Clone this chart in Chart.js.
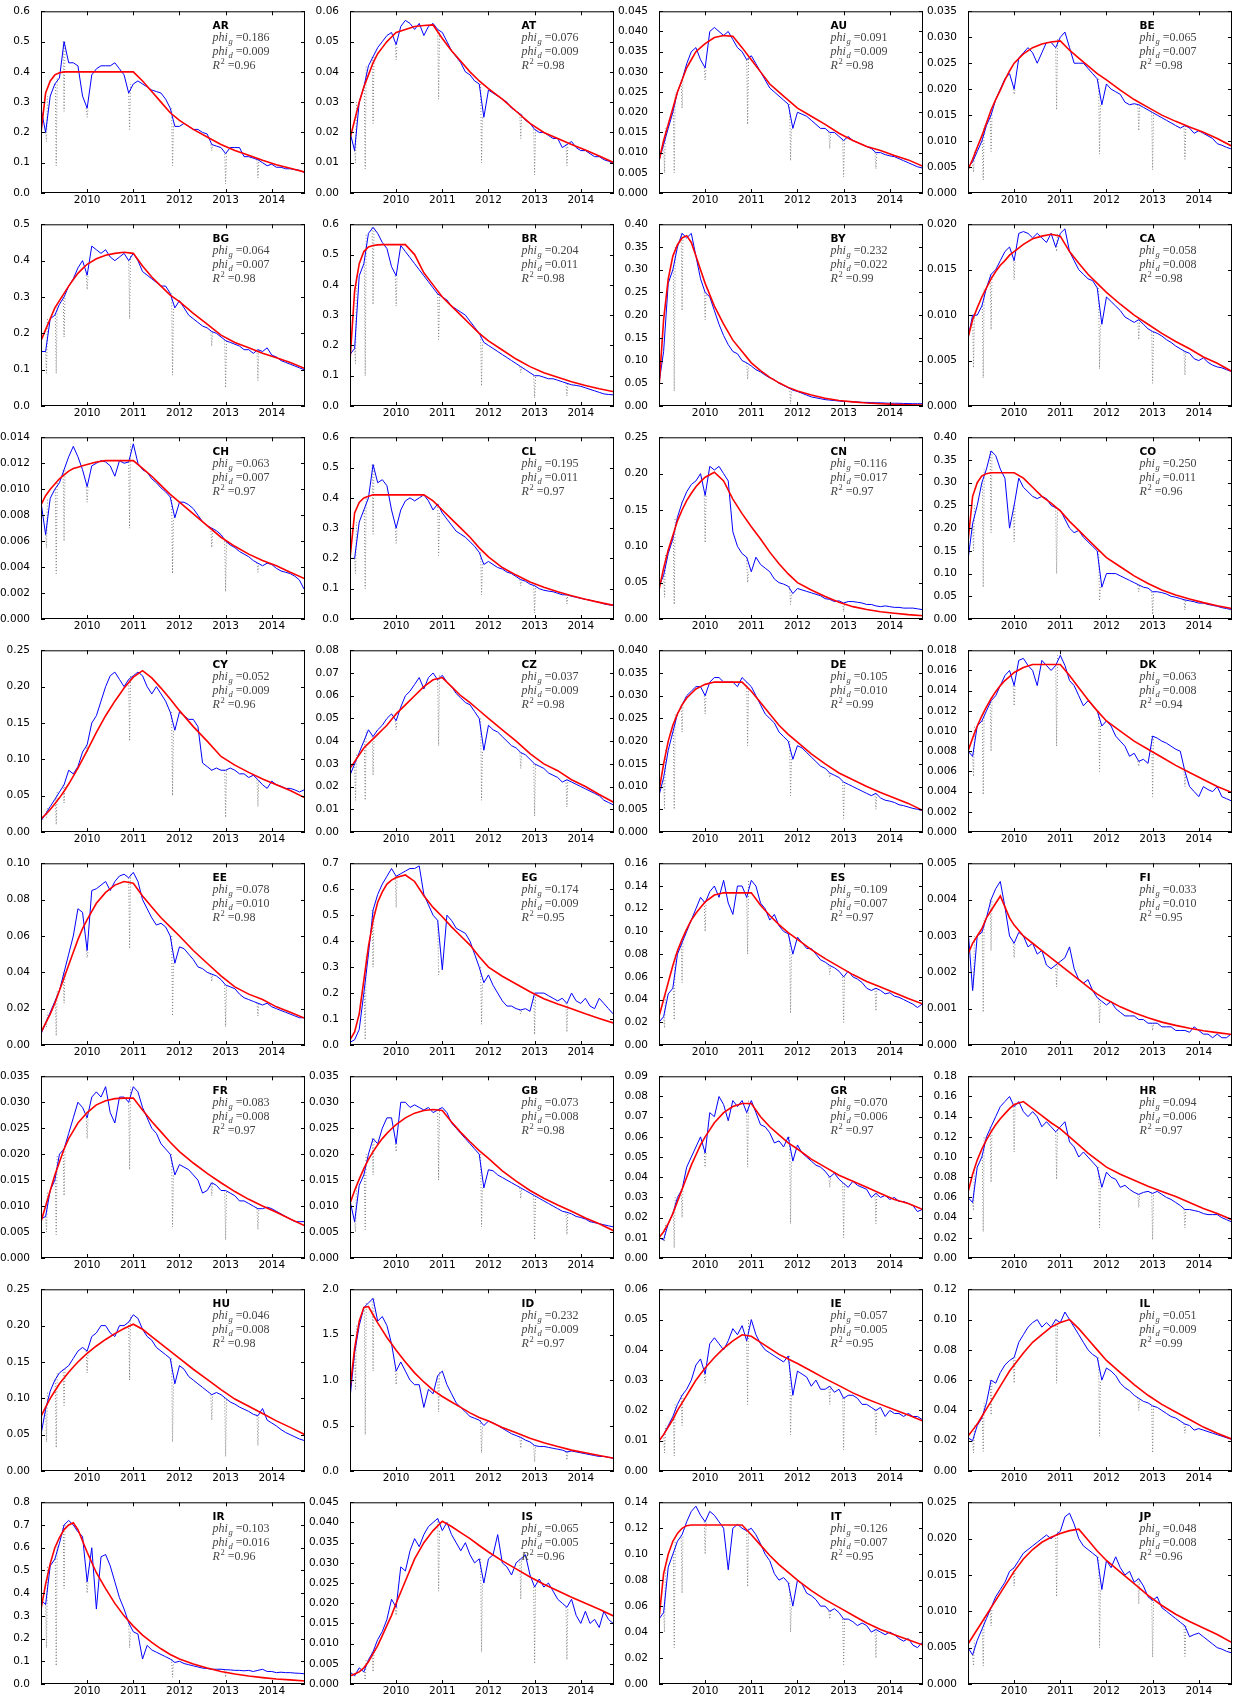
<!DOCTYPE html>
<html>
<head>
<meta charset="utf-8">
<script src="https://cdn.jsdelivr.net/npm/chart.js@4.4.1/dist/chart.umd.min.js"></script>
<style>
    body { margin: 0; background: #fff; width: 1233px; height: 1699px; position: relative; overflow: hidden; }
    canvas { position: absolute; }
</style>
</head>
<body>
<script>
// ---- data ----
const countries = ["AR", "AT", "AU", "BE", "BG", "BR", "BY", "CA", "CH", "CL", "CN", "CO", "CY", "CZ", "DE", "DK",
    "EE", "EG", "ES", "FI", "FR", "GB", "GR", "HR", "HU", "ID", "IE", "IL", "IR", "IS", "IT", "JP"];
const phiG = [0.186, 0.076, 0.091, 0.065, 0.064, 0.204, 0.232, 0.058, 0.063, 0.195, 0.116, 0.250, 0.052, 0.037, 0.105, 0.063,
    0.078, 0.174, 0.109, 0.033, 0.083, 0.073, 0.070, 0.094, 0.046, 0.232, 0.057, 0.051, 0.103, 0.065, 0.126, 0.048];
const phiD = [0.009, 0.009, 0.009, 0.007, 0.007, 0.011, 0.022, 0.008, 0.007, 0.011, 0.017, 0.011, 0.009, 0.009, 0.010, 0.008,
    0.010, 0.009, 0.007, 0.010, 0.008, 0.008, 0.006, 0.006, 0.008, 0.009, 0.005, 0.009, 0.016, 0.005, 0.007, 0.008];
const rSquared = [0.96, 0.98, 0.98, 0.98, 0.98, 0.98, 0.99, 0.98, 0.97, 0.97, 0.97, 0.96, 0.96, 0.98, 0.99, 0.94,
    0.98, 0.95, 0.97, 0.95, 0.97, 0.98, 0.97, 0.97, 0.98, 0.97, 0.95, 0.99, 0.96, 0.96, 0.95, 0.96];
const yMax = [0.6, 0.06, 0.045, 0.035, 0.5, 0.6, 0.40, 0.020, 0.014, 0.6, 0.25, 0.40, 0.25, 0.08, 0.040, 0.018,
    0.10, 0.7, 0.16, 0.005, 0.035, 0.035, 0.09, 0.18, 0.25, 2.0, 0.06, 0.12, 0.8, 0.045, 0.14, 0.025];
const yStep = [0.1, 0.01, 0.005, 0.005, 0.1, 0.1, 0.05, 0.005, 0.002, 0.1, 0.05, 0.05, 0.05, 0.01, 0.005, 0.002,
    0.02, 0.1, 0.02, 0.001, 0.005, 0.005, 0.01, 0.02, 0.05, 0.5, 0.01, 0.02, 0.1, 0.005, 0.02, 0.005];
const yearTicks = [2010, 2011, 2012, 2013, 2014];

// observation dates (blue)
const weekX = [2009.0, 2009.1, 2009.2, 2009.3, 2009.4, 2009.5, 2009.6, 2009.7, 2009.8, 2009.9,
    2010.0, 2010.1, 2010.2, 2010.3, 2010.4, 2010.5, 2010.6, 2010.7, 2010.8, 2010.9,
    2011.0, 2011.1, 2011.2, 2011.3, 2011.4, 2011.5, 2011.6, 2011.7, 2011.8, 2011.9,
    2012.0, 2012.1, 2012.2, 2012.3, 2012.4, 2012.5, 2012.6, 2012.7, 2012.8, 2012.9,
    2013.0, 2013.1, 2013.2, 2013.3, 2013.4, 2013.5, 2013.6, 2013.7, 2013.8, 2013.9,
    2014.0, 2014.1, 2014.2, 2014.3, 2014.4, 2014.5, 2014.6, 2014.7];
// model dates (red)
const fitX = [2009.0, 2009.1, 2009.2, 2009.3, 2009.4, 2009.5, 2009.6, 2009.7, 2009.8, 2009.9,
    2010.0, 2010.2, 2010.4, 2010.6, 2010.8, 2011.0, 2011.2, 2011.4, 2011.6, 2011.8,
    2012.0, 2012.3, 2012.6, 2012.9, 2013.2, 2013.5, 2013.8, 2014.1, 2014.4, 2014.72];
// dates of the short drops (grey dotted)
const dipX = [2009.12, 2009.33, 2009.5, 2010.0, 2010.92, 2011.85, 2012.7, 2013.0, 2013.7];

const observed = [
    /* AR */ [0.28,0.20,0.32,0.36,0.38,0.50,0.43,0.43,0.42,0.32, 0.28,0.39,0.41,0.42,0.42,0.42,0.43,0.41,0.39,0.33, 0.36,0.37,0.36,0.35,0.34,0.335,0.33,0.31,0.28,0.22, 0.22,0.23,0.22,0.21,0.21,0.20,0.195,0.16,0.155,0.15, 0.13,0.15,0.15,0.15,0.12,0.12,0.115,0.11,0.10,0.09, 0.095,0.085,0.085,0.08,0.08,0.077,0.075,0.068],
    /* AT */ [0.020,0.014,0.030,0.035,0.042,0.045,0.048,0.050,0.052,0.053, 0.049,0.055,0.057,0.056,0.054,0.056,0.052,0.055,0.056,0.054, 0.053,0.050,0.047,0.045,0.043,0.040,0.039,0.037,0.036,0.025, 0.034,0.033,0.032,0.031,0.030,0.028,0.027,0.026,0.024,0.023, 0.021,0.020,0.020,0.019,0.018,0.018,0.015,0.016,0.017,0.015, 0.014,0.014,0.013,0.012,0.012,0.011,0.0105,0.0098],
    /* AU */ [0.008,0.012,0.016,0.020,0.025,0.028,0.032,0.035,0.036,0.033, 0.031,0.040,0.041,0.040,0.039,0.040,0.038,0.036,0.035,0.033, 0.034,0.032,0.030,0.028,0.026,0.025,0.024,0.023,0.022,0.016, 0.020,0.0195,0.019,0.018,0.017,0.016,0.016,0.015,0.015,0.014, 0.013,0.014,0.013,0.0125,0.012,0.0115,0.011,0.010,0.010,0.0095, 0.0092,0.009,0.0085,0.008,0.0075,0.007,0.0065,0.0062],
    /* BE */ [0.005,0.006,0.008,0.010,0.013,0.015,0.018,0.020,0.022,0.023, 0.020,0.026,0.027,0.028,0.027,0.025,0.027,0.029,0.029,0.028, 0.030,0.031,0.028,0.025,0.025,0.025,0.024,0.023,0.022,0.017, 0.021,0.020,0.0195,0.019,0.0175,0.017,0.0172,0.017,0.0165,0.016, 0.0155,0.015,0.0145,0.014,0.0135,0.013,0.0125,0.013,0.0125,0.0115, 0.012,0.0115,0.011,0.0105,0.0095,0.0092,0.0088,0.0085],
    /* BG */ [0.15,0.15,0.24,0.25,0.28,0.30,0.33,0.35,0.38,0.40, 0.36,0.44,0.43,0.42,0.43,0.41,0.40,0.41,0.42,0.40, 0.42,0.40,0.37,0.36,0.35,0.34,0.33,0.33,0.31,0.27, 0.29,0.27,0.25,0.24,0.23,0.22,0.215,0.205,0.20,0.19, 0.18,0.175,0.17,0.165,0.155,0.155,0.145,0.155,0.15,0.16, 0.14,0.135,0.125,0.12,0.115,0.11,0.105,0.10],
    /* BR */ [0.17,0.19,0.43,0.47,0.57,0.59,0.57,0.54,0.52,0.46, 0.43,0.53,0.51,0.49,0.47,0.45,0.43,0.41,0.39,0.37, 0.36,0.35,0.33,0.32,0.31,0.30,0.28,0.26,0.24,0.21, 0.20,0.19,0.18,0.17,0.16,0.15,0.14,0.13,0.12,0.11, 0.10,0.10,0.095,0.09,0.09,0.085,0.08,0.075,0.07,0.068, 0.065,0.06,0.055,0.05,0.045,0.04,0.038,0.037],
    /* BY */ [0.05,0.12,0.27,0.30,0.35,0.38,0.37,0.38,0.33,0.28, 0.25,0.24,0.21,0.18,0.155,0.135,0.12,0.115,0.10,0.095, 0.088,0.08,0.075,0.068,0.062,0.058,0.05,0.045,0.04,0.035, 0.032,0.028,0.024,0.02,0.018,0.016,0.014,0.013,0.012,0.011, 0.010,0.010,0.009,0.009,0.008,0.008,0.0075,0.007,0.007,0.0065, 0.006,0.006,0.006,0.0055,0.0055,0.005,0.005,0.005],
    /* CA */ [0.0075,0.010,0.010,0.011,0.013,0.0145,0.015,0.016,0.017,0.0175, 0.016,0.019,0.0192,0.019,0.0185,0.019,0.0185,0.018,0.019,0.0175, 0.019,0.0195,0.017,0.016,0.015,0.0145,0.014,0.0138,0.013,0.009, 0.012,0.0115,0.011,0.0105,0.0098,0.0095,0.0092,0.0095,0.009,0.0085, 0.0082,0.008,0.0077,0.0073,0.007,0.0066,0.0063,0.006,0.0058,0.0052, 0.005,0.0053,0.0048,0.0045,0.0043,0.0042,0.004,0.0038],
    /* CH */ [0.009,0.0065,0.0093,0.010,0.0105,0.0115,0.0125,0.0133,0.0125,0.0115, 0.0102,0.0118,0.012,0.0122,0.0121,0.0118,0.011,0.0122,0.012,0.0121, 0.0135,0.012,0.0115,0.0113,0.0108,0.0105,0.0101,0.0098,0.0094,0.0078, 0.009,0.009,0.0088,0.0085,0.008,0.0075,0.0072,0.007,0.0068,0.0065, 0.006,0.0057,0.0055,0.0052,0.005,0.0048,0.0045,0.0043,0.0041,0.0043, 0.0042,0.0039,0.0037,0.0036,0.0035,0.0033,0.003,0.0023],
    /* CL */ [0.20,0.20,0.32,0.36,0.40,0.51,0.45,0.46,0.44,0.36, 0.30,0.36,0.39,0.40,0.39,0.40,0.41,0.39,0.36,0.38, 0.35,0.33,0.31,0.29,0.28,0.27,0.255,0.24,0.22,0.18, 0.19,0.18,0.17,0.165,0.155,0.15,0.14,0.13,0.125,0.115, 0.11,0.10,0.095,0.092,0.09,0.085,0.08,0.08,0.075,0.072, 0.068,0.065,0.062,0.058,0.055,0.05,0.047,0.045],
    /* CN */ [0.045,0.06,0.09,0.11,0.14,0.16,0.175,0.185,0.19,0.20, 0.17,0.21,0.205,0.21,0.20,0.19,0.12,0.10,0.09,0.085, 0.065,0.085,0.075,0.07,0.065,0.055,0.05,0.048,0.045,0.035, 0.042,0.04,0.038,0.036,0.034,0.032,0.028,0.027,0.024,0.025, 0.022,0.024,0.024,0.023,0.022,0.02,0.02,0.018,0.017,0.018, 0.017,0.016,0.016,0.015,0.015,0.015,0.014,0.013],
    /* CO */ [0.13,0.21,0.25,0.30,0.33,0.37,0.36,0.33,0.31,0.20, 0.25,0.31,0.29,0.28,0.27,0.265,0.27,0.265,0.25,0.245, 0.24,0.22,0.20,0.19,0.195,0.18,0.17,0.16,0.15,0.07, 0.10,0.10,0.10,0.095,0.09,0.085,0.08,0.075,0.07,0.068, 0.06,0.06,0.058,0.055,0.05,0.048,0.045,0.042,0.04,0.038, 0.035,0.035,0.032,0.03,0.028,0.025,0.023,0.021],
    /* CY */ [0.015,0.025,0.035,0.045,0.055,0.065,0.085,0.08,0.09,0.11, 0.12,0.15,0.16,0.18,0.20,0.215,0.22,0.21,0.20,0.21, 0.215,0.22,0.215,0.20,0.19,0.20,0.19,0.18,0.165,0.14, 0.165,0.16,0.155,0.155,0.145,0.095,0.09,0.085,0.088,0.085, 0.085,0.088,0.085,0.08,0.08,0.075,0.078,0.072,0.065,0.06, 0.07,0.065,0.063,0.06,0.06,0.058,0.055,0.058],
    /* CZ */ [0.025,0.03,0.035,0.04,0.045,0.042,0.045,0.047,0.05,0.052, 0.049,0.055,0.06,0.062,0.065,0.068,0.063,0.068,0.07,0.067, 0.069,0.066,0.064,0.061,0.059,0.057,0.056,0.053,0.05,0.036, 0.047,0.045,0.044,0.042,0.04,0.038,0.037,0.035,0.034,0.032, 0.03,0.029,0.028,0.026,0.025,0.024,0.022,0.023,0.022,0.021, 0.02,0.019,0.018,0.017,0.016,0.014,0.013,0.012],
    /* DE */ [0.008,0.012,0.018,0.022,0.026,0.028,0.030,0.031,0.032,0.032, 0.030,0.033,0.034,0.034,0.033,0.033,0.033,0.032,0.034,0.033, 0.032,0.030,0.028,0.026,0.025,0.024,0.022,0.021,0.020,0.016, 0.019,0.0185,0.0175,0.0165,0.0155,0.0145,0.014,0.013,0.0125,0.012, 0.011,0.0105,0.010,0.0095,0.009,0.0085,0.008,0.0085,0.0075,0.007, 0.0068,0.0065,0.006,0.0058,0.0055,0.0052,0.005,0.0047],
    /* DK */ [0.008,0.0075,0.0105,0.011,0.012,0.013,0.0135,0.0145,0.0155,0.016, 0.0145,0.017,0.0172,0.0165,0.016,0.0145,0.017,0.0165,0.016,0.0165, 0.0175,0.0165,0.015,0.0145,0.0135,0.0125,0.013,0.0125,0.012,0.0105, 0.011,0.0105,0.0095,0.009,0.0085,0.0075,0.0078,0.007,0.0072,0.0068, 0.0095,0.0093,0.009,0.0088,0.0085,0.0082,0.008,0.006,0.0045,0.004, 0.0035,0.0045,0.0042,0.004,0.0045,0.0035,0.0033,0.0031],
    /* EE */ [0.006,0.012,0.018,0.024,0.03,0.04,0.05,0.06,0.075,0.073, 0.052,0.085,0.086,0.088,0.09,0.085,0.09,0.093,0.094,0.092, 0.095,0.09,0.08,0.075,0.07,0.066,0.067,0.065,0.06,0.045, 0.054,0.053,0.05,0.047,0.043,0.042,0.04,0.039,0.038,0.036, 0.033,0.032,0.031,0.028,0.026,0.025,0.024,0.023,0.022,0.023, 0.021,0.02,0.019,0.018,0.017,0.016,0.015,0.015],
    /* EG */ [0.01,0.02,0.06,0.2,0.35,0.52,0.58,0.62,0.65,0.68, 0.65,0.66,0.67,0.68,0.68,0.69,0.58,0.54,0.5,0.48, 0.29,0.5,0.48,0.45,0.44,0.43,0.4,0.35,0.3,0.24, 0.27,0.23,0.2,0.17,0.15,0.15,0.14,0.135,0.14,0.13, 0.2,0.2,0.2,0.19,0.18,0.17,0.18,0.16,0.2,0.17, 0.16,0.18,0.15,0.14,0.18,0.16,0.14,0.12],
    /* ES */ [0.02,0.025,0.045,0.05,0.08,0.09,0.1,0.11,0.12,0.13, 0.125,0.135,0.14,0.13,0.145,0.125,0.115,0.14,0.14,0.13, 0.145,0.14,0.125,0.12,0.11,0.115,0.105,0.1,0.098,0.08, 0.095,0.09,0.085,0.085,0.08,0.075,0.073,0.07,0.068,0.065, 0.06,0.065,0.06,0.058,0.055,0.05,0.048,0.05,0.048,0.045, 0.046,0.043,0.042,0.04,0.038,0.036,0.033,0.036],
    /* FI */ [0.0032,0.0015,0.003,0.0031,0.0035,0.004,0.0043,0.0045,0.0038,0.003, 0.0028,0.0031,0.003,0.0027,0.0028,0.0025,0.0026,0.0022,0.0021,0.0022, 0.0023,0.0024,0.0027,0.0021,0.0018,0.0017,0.0018,0.0015,0.0013,0.0012, 0.0011,0.0012,0.001,0.0009,0.0008,0.0008,0.0008,0.0007,0.0007,0.0006, 0.0006,0.0006,0.0005,0.0005,0.0005,0.0004,0.0004,0.0004,0.00035,0.0005, 0.0004,0.0003,0.0003,0.0002,0.0003,0.0002,0.0002,0.0003],
    /* FR */ [0.0075,0.008,0.013,0.015,0.02,0.021,0.024,0.027,0.03,0.029, 0.027,0.031,0.032,0.031,0.033,0.028,0.026,0.031,0.031,0.03, 0.033,0.032,0.029,0.027,0.025,0.024,0.022,0.021,0.02,0.016, 0.018,0.0175,0.017,0.016,0.015,0.0125,0.013,0.0145,0.014,0.013, 0.013,0.0125,0.012,0.011,0.011,0.0105,0.01,0.0095,0.0095,0.0098, 0.0095,0.009,0.0085,0.008,0.0075,0.007,0.007,0.007],
    /* GB */ [0.011,0.007,0.014,0.016,0.02,0.023,0.022,0.025,0.027,0.027, 0.022,0.03,0.03,0.029,0.0295,0.029,0.0285,0.029,0.028,0.0285, 0.029,0.028,0.026,0.025,0.024,0.023,0.022,0.021,0.02,0.0135, 0.017,0.0168,0.016,0.0155,0.015,0.0145,0.014,0.0135,0.013,0.0125, 0.012,0.0115,0.011,0.0105,0.01,0.0095,0.009,0.0088,0.0085,0.008, 0.0078,0.0075,0.007,0.0068,0.0066,0.0064,0.0062,0.006],
    /* GR */ [0.01,0.009,0.017,0.022,0.03,0.034,0.045,0.05,0.055,0.06, 0.052,0.072,0.07,0.08,0.076,0.068,0.078,0.075,0.078,0.072, 0.078,0.072,0.066,0.065,0.062,0.057,0.058,0.055,0.06,0.048, 0.056,0.052,0.05,0.048,0.046,0.045,0.043,0.04,0.042,0.039, 0.037,0.035,0.038,0.036,0.035,0.034,0.03,0.032,0.03,0.031, 0.029,0.03,0.028,0.028,0.027,0.026,0.023,0.024],
    /* HR */ [0.06,0.055,0.09,0.1,0.12,0.13,0.14,0.15,0.155,0.16, 0.15,0.155,0.145,0.14,0.145,0.14,0.13,0.135,0.13,0.125, 0.13,0.135,0.115,0.11,0.1,0.105,0.1,0.095,0.09,0.07, 0.085,0.08,0.078,0.07,0.072,0.068,0.065,0.063,0.065,0.066, 0.064,0.066,0.063,0.06,0.058,0.055,0.052,0.048,0.048,0.047, 0.046,0.044,0.043,0.043,0.043,0.04,0.038,0.036],
    /* HU */ [0.05,0.085,0.11,0.125,0.135,0.14,0.145,0.155,0.165,0.17, 0.165,0.185,0.19,0.2,0.2,0.19,0.185,0.2,0.2,0.205, 0.215,0.21,0.195,0.185,0.18,0.17,0.165,0.16,0.155,0.12, 0.145,0.14,0.13,0.125,0.12,0.115,0.11,0.105,0.108,0.105, 0.1,0.095,0.092,0.088,0.085,0.082,0.078,0.076,0.086,0.07, 0.066,0.062,0.057,0.053,0.05,0.047,0.044,0.042],
    /* ID */ [0.8,1.3,1.6,1.8,1.85,1.9,1.65,1.7,1.6,1.4, 1.1,1.2,1.1,1.0,0.95,0.95,0.7,0.9,0.85,1.05, 1.1,0.95,0.85,0.75,0.7,0.65,0.6,0.58,0.56,0.5, 0.55,0.53,0.5,0.47,0.44,0.41,0.39,0.37,0.34,0.32, 0.28,0.27,0.27,0.26,0.25,0.24,0.23,0.21,0.22,0.21, 0.2,0.19,0.18,0.17,0.16,0.16,0.15,0.14],
    /* IE */ [0.01,0.012,0.015,0.018,0.022,0.025,0.027,0.03,0.035,0.037, 0.032,0.042,0.044,0.042,0.04,0.043,0.047,0.045,0.048,0.043, 0.05,0.045,0.042,0.04,0.039,0.038,0.037,0.036,0.038,0.025, 0.033,0.032,0.031,0.028,0.03,0.027,0.027,0.028,0.026,0.027, 0.024,0.025,0.025,0.024,0.022,0.022,0.021,0.02,0.021,0.018, 0.02,0.019,0.019,0.018,0.019,0.018,0.018,0.017],
    /* IL */ [0.022,0.02,0.03,0.035,0.045,0.06,0.058,0.065,0.07,0.073, 0.075,0.085,0.09,0.095,0.098,0.1,0.095,0.098,0.095,0.1, 0.098,0.105,0.1,0.095,0.09,0.085,0.08,0.077,0.075,0.06, 0.068,0.066,0.063,0.058,0.055,0.053,0.05,0.048,0.046,0.045, 0.043,0.042,0.04,0.038,0.036,0.035,0.033,0.031,0.03,0.027, 0.028,0.027,0.026,0.025,0.024,0.023,0.022,0.021],
    /* IR */ [0.37,0.35,0.52,0.55,0.62,0.7,0.72,0.7,0.67,0.65, 0.45,0.6,0.33,0.56,0.57,0.52,0.45,0.38,0.33,0.27, 0.23,0.22,0.11,0.17,0.15,0.14,0.13,0.12,0.11,0.095, 0.1,0.09,0.085,0.08,0.075,0.07,0.068,0.065,0.065,0.065, 0.063,0.062,0.06,0.06,0.058,0.06,0.055,0.06,0.065,0.055, 0.055,0.05,0.052,0.05,0.05,0.048,0.047,0.045],
    /* IS */ [0.003,0.002,0.004,0.003,0.006,0.008,0.011,0.013,0.016,0.021, 0.019,0.029,0.028,0.033,0.036,0.034,0.037,0.039,0.04,0.041, 0.038,0.04,0.037,0.035,0.033,0.035,0.032,0.03,0.031,0.025, 0.031,0.032,0.037,0.03,0.029,0.027,0.03,0.031,0.032,0.027, 0.024,0.026,0.024,0.025,0.023,0.021,0.02,0.019,0.021,0.017, 0.015,0.018,0.015,0.016,0.014,0.018,0.016,0.015],
    /* IT */ [0.05,0.055,0.09,0.1,0.11,0.115,0.125,0.133,0.137,0.13, 0.125,0.133,0.13,0.125,0.12,0.088,0.12,0.123,0.12,0.118, 0.12,0.115,0.108,0.1,0.095,0.085,0.08,0.082,0.078,0.06, 0.08,0.077,0.07,0.068,0.065,0.06,0.06,0.056,0.058,0.055, 0.05,0.05,0.048,0.045,0.047,0.045,0.04,0.042,0.04,0.038, 0.04,0.038,0.035,0.033,0.035,0.03,0.028,0.032],
    /* JP */ [0.005,0.004,0.006,0.0075,0.009,0.0105,0.012,0.013,0.014,0.0155, 0.016,0.017,0.018,0.0185,0.019,0.0195,0.02,0.0205,0.02,0.0205, 0.021,0.023,0.0235,0.022,0.02,0.019,0.0185,0.018,0.0175,0.013, 0.017,0.016,0.0175,0.016,0.015,0.0155,0.014,0.0145,0.0135,0.012, 0.0115,0.012,0.0105,0.01,0.0095,0.009,0.0085,0.008,0.0065,0.0068, 0.007,0.0065,0.006,0.0055,0.005,0.0048,0.0045,0.0043]
];

const fitted = [
    /* AR */ [0.20,0.33,0.37,0.39,0.397,0.40,0.40,0.40,0.40,0.40, 0.40,0.40,0.40,0.40,0.40, 0.40,0.37,0.335,0.30,0.265, 0.24,0.21,0.185,0.16,0.14,0.125,0.108,0.093,0.082,0.069],
    /* AT */ [0.018,0.024,0.030,0.035,0.039,0.043,0.046,0.048,0.050,0.0515, 0.053,0.054,0.055,0.0553,0.0555, 0.051,0.047,0.0435,0.040,0.037, 0.0345,0.031,0.027,0.023,0.020,0.018,0.016,0.0142,0.0122,0.0100],
    /* AU */ [0.008,0.013,0.017,0.021,0.025,0.028,0.031,0.033,0.035,0.036, 0.037,0.0385,0.039,0.0388,0.036, 0.033,0.030,0.027,0.025,0.023, 0.021,0.019,0.017,0.0148,0.013,0.0115,0.0105,0.0093,0.0082,0.0066],
    /* BE */ [0.0045,0.0065,0.0088,0.011,0.0135,0.016,0.018,0.0198,0.0218,0.0235, 0.025,0.0268,0.028,0.0287,0.0291, 0.0293,0.0275,0.026,0.0245,0.023, 0.0218,0.0198,0.018,0.0165,0.015,0.0138,0.0127,0.0117,0.0105,0.009],
    /* BG */ [0.18,0.21,0.24,0.27,0.29,0.31,0.33,0.348,0.365,0.378, 0.39,0.405,0.415,0.42,0.423, 0.42,0.385,0.355,0.33,0.305, 0.287,0.255,0.225,0.195,0.175,0.16,0.145,0.133,0.12,0.103],
    /* BR */ [0.15,0.38,0.47,0.51,0.525,0.53,0.532,0.533,0.533,0.533, 0.533,0.533,0.50,0.44,0.40, 0.36,0.33,0.30,0.27,0.24, 0.215,0.185,0.155,0.13,0.11,0.095,0.08,0.068,0.057,0.047],
    /* BY */ [0.04,0.19,0.28,0.33,0.355,0.37,0.375,0.36,0.33,0.30, 0.27,0.22,0.18,0.145,0.12, 0.095,0.078,0.063,0.051,0.041, 0.033,0.024,0.017,0.012,0.009,0.0065,0.005,0.0035,0.0028,0.002],
    /* CA */ [0.0075,0.0095,0.0108,0.012,0.013,0.014,0.0148,0.0155,0.016,0.0166, 0.017,0.0178,0.0184,0.0187,0.0189, 0.0187,0.017,0.0157,0.0145,0.0135, 0.0125,0.0112,0.010,0.009,0.008,0.0071,0.0063,0.0054,0.0047,0.0038],
    /* CH */ [0.0088,0.0095,0.0100,0.0104,0.0108,0.0111,0.0114,0.0116,0.0117,0.0118, 0.0119,0.0121,0.0122,0.0122,0.0122, 0.0122,0.0116,0.011,0.0103,0.0096, 0.009,0.0081,0.0072,0.0063,0.0056,0.005,0.0045,0.0041,0.0036,0.0031],
    /* CL */ [0.20,0.35,0.385,0.40,0.405,0.41,0.41,0.41,0.41,0.41, 0.41,0.41,0.41,0.41,0.39, 0.36,0.33,0.30,0.27,0.235, 0.205,0.17,0.145,0.122,0.105,0.09,0.077,0.065,0.055,0.045],
    /* CN */ [0.04,0.07,0.095,0.115,0.135,0.15,0.163,0.173,0.182,0.189, 0.195,0.202,0.19,0.165,0.145, 0.127,0.11,0.092,0.076,0.062, 0.05,0.04,0.031,0.023,0.017,0.013,0.01,0.008,0.006,0.0045],
    /* CO */ [0.17,0.27,0.30,0.315,0.32,0.322,0.322,0.322,0.322,0.322, 0.322,0.31,0.29,0.27,0.255, 0.238,0.215,0.195,0.175,0.155, 0.135,0.115,0.095,0.078,0.064,0.053,0.044,0.036,0.029,0.023],
    /* CY */ [0.018,0.024,0.031,0.039,0.047,0.056,0.066,0.077,0.088,0.1, 0.112,0.137,0.16,0.18,0.198, 0.213,0.222,0.212,0.198,0.183, 0.167,0.145,0.125,0.104,0.092,0.082,0.073,0.065,0.057,0.047],
    /* CZ */ [0.028,0.031,0.034,0.037,0.039,0.041,0.043,0.045,0.047,0.0495, 0.052,0.056,0.06,0.064,0.067, 0.068,0.064,0.06,0.057,0.0535, 0.05,0.045,0.04,0.0345,0.03,0.027,0.023,0.02,0.0165,0.013],
    /* DE */ [0.009,0.015,0.02,0.0235,0.026,0.028,0.0295,0.0305,0.0315,0.032, 0.0325,0.033,0.033,0.033,0.033, 0.031,0.0285,0.026,0.0235,0.0215, 0.0198,0.0172,0.015,0.013,0.0115,0.0100,0.0087,0.0075,0.0063,0.0047],
    /* DK */ [0.008,0.0093,0.0105,0.0115,0.0124,0.0132,0.0139,0.0145,0.015,0.0154, 0.0158,0.0163,0.0166,0.0166,0.0166, 0.0166,0.0155,0.0143,0.0131,0.012, 0.011,0.010,0.009,0.0082,0.0074,0.0066,0.0059,0.0052,0.0045,0.0039],
    /* EE */ [0.007,0.012,0.017,0.023,0.03,0.037,0.044,0.051,0.058,0.064, 0.069,0.078,0.084,0.088,0.09, 0.089,0.082,0.076,0.07,0.065, 0.06,0.052,0.045,0.038,0.032,0.028,0.025,0.021,0.018,0.0147],
    /* EG */ [0.02,0.05,0.12,0.25,0.38,0.48,0.55,0.59,0.62,0.635, 0.645,0.655,0.63,0.575,0.53, 0.494,0.455,0.42,0.385,0.34, 0.30,0.265,0.235,0.205,0.178,0.158,0.14,0.12,0.102,0.084],
    /* ES */ [0.025,0.04,0.055,0.07,0.083,0.093,0.102,0.11,0.116,0.121, 0.126,0.132,0.134,0.134,0.134, 0.134,0.123,0.114,0.106,0.099, 0.093,0.084,0.076,0.069,0.062,0.056,0.051,0.046,0.041,0.036],
    /* FI */ [0.0025,0.0028,0.003,0.0032,0.0035,0.0037,0.0039,0.0041,0.0038,0.0035, 0.0033,0.003,0.0028,0.0026,0.0024, 0.0022,0.002,0.0018,0.0016,0.0014, 0.00125,0.00105,0.00089,0.00075,0.00063,0.00054,0.00046,0.00039,0.00034,0.00029],
    /* FR */ [0.007,0.01,0.013,0.016,0.0185,0.021,0.023,0.0245,0.026,0.027, 0.028,0.0295,0.0303,0.0307,0.0308, 0.0308,0.0285,0.0263,0.0243,0.0223, 0.0205,0.0183,0.0163,0.0145,0.0128,0.0113,0.01,0.0088,0.0075,0.0062],
    /* GB */ [0.0105,0.013,0.0152,0.0172,0.019,0.0205,0.0218,0.023,0.024,0.0249, 0.0257,0.027,0.0279,0.0284,0.0286, 0.0284,0.0262,0.0242,0.0224,0.0207, 0.0192,0.0168,0.0148,0.013,0.0115,0.0102,0.009,0.0077,0.0066,0.0052],
    /* GR */ [0.01,0.013,0.017,0.022,0.028,0.034,0.04,0.046,0.051,0.056, 0.06,0.067,0.072,0.075,0.0765, 0.0765,0.07,0.065,0.061,0.057, 0.054,0.049,0.045,0.041,0.038,0.035,0.032,0.029,0.027,0.024],
    /* HR */ [0.065,0.083,0.097,0.108,0.117,0.125,0.132,0.138,0.143,0.148, 0.152,0.155,0.148,0.141,0.134, 0.128,0.12,0.112,0.104,0.097, 0.09,0.083,0.077,0.071,0.066,0.061,0.055,0.049,0.044,0.038],
    /* HU */ [0.075,0.088,0.1,0.11,0.12,0.128,0.136,0.143,0.15,0.156, 0.162,0.172,0.181,0.189,0.196, 0.202,0.195,0.185,0.175,0.165, 0.155,0.14,0.126,0.112,0.099,0.089,0.079,0.069,0.06,0.05],
    /* ID */ [0.9,1.35,1.65,1.8,1.81,1.72,1.63,1.55,1.47,1.4, 1.33,1.2,1.08,0.98,0.89, 0.82,0.76,0.7,0.64,0.59, 0.55,0.48,0.42,0.36,0.31,0.27,0.23,0.2,0.17,0.14],
    /* IE */ [0.01,0.012,0.0145,0.017,0.02,0.0225,0.025,0.0275,0.03,0.032, 0.034,0.0375,0.0405,0.043,0.045, 0.0445,0.0425,0.0405,0.0385,0.037, 0.0355,0.033,0.0305,0.0282,0.0258,0.0238,0.022,0.0202,0.0185,0.0165],
    /* IL */ [0.023,0.027,0.031,0.036,0.041,0.046,0.051,0.056,0.061,0.066, 0.07,0.078,0.085,0.09,0.095, 0.098,0.1,0.094,0.087,0.08, 0.073,0.065,0.057,0.05,0.044,0.039,0.034,0.029,0.025,0.021],
    /* IR */ [0.33,0.44,0.53,0.6,0.645,0.68,0.7,0.71,0.68,0.63, 0.58,0.49,0.42,0.355,0.3, 0.255,0.215,0.183,0.155,0.13, 0.11,0.088,0.07,0.055,0.044,0.035,0.028,0.022,0.018,0.013],
    /* IS */ [0.002,0.0025,0.003,0.004,0.0055,0.0075,0.0095,0.012,0.0145,0.017, 0.02,0.0255,0.031,0.035,0.038, 0.0403,0.039,0.0375,0.036,0.0343, 0.0327,0.0305,0.0285,0.0265,0.0247,0.0231,0.0215,0.02,0.0185,0.0168],
    /* IT */ [0.05,0.085,0.1,0.11,0.116,0.12,0.122,0.1225,0.1225,0.1225, 0.1225,0.1225,0.1225,0.1225,0.1225, 0.115,0.107,0.099,0.092,0.086, 0.08,0.072,0.065,0.059,0.053,0.047,0.042,0.038,0.034,0.03],
    /* JP */ [0.0055,0.0065,0.0075,0.0085,0.0095,0.0105,0.0115,0.0125,0.0135,0.0145, 0.0155,0.0172,0.0185,0.0195,0.0202, 0.0207,0.0211,0.0213,0.0198,0.0183, 0.017,0.0154,0.0138,0.0122,0.0108,0.0096,0.0086,0.0077,0.0068,0.0057]
];

// lowest value reached in each drop, per dipX (null = no visible drop)
const dipLows = [
    /* AR */ [0.17, 0.09, 0.27, 0.25, 0.21, 0.09, 0.14, 0.03, 0.05],
    /* AT */ [0.010, 0.008, 0.023, 0.044, 0.031, 0.010, 0.018, 0.006, 0.009],
    /* AU */ [0.005, 0.005, 0.021, 0.028, 0.017, 0.008, 0.011, 0.004, 0.006],
    /* BE */ [0.004, 0.0025, 0.008, 0.019, 0.016, 0.0075, 0.012, 0.0045, 0.0065],
    /* BG */ [0.09, 0.09, 0.19, 0.32, 0.24, 0.085, 0.165, 0.05, 0.07],
    /* BR */ [0.14, 0.10, 0.335, 0.33, 0.22, 0.066, 0.11, 0.027, 0.033],
    /* BY */ [null, 0.033, 0.21, 0.19, 0.059, 0.005, null, null, null],
    /* CA */ [0.0042, 0.0031, 0.0084, 0.0139, 0.017, 0.0041, 0.0073, 0.0025, 0.0034],
    /* CH */ [0.0055, 0.0035, 0.006, 0.009, 0.007, 0.0035, 0.0055, 0.0021, 0.0036],
    /* CL */ [0.15, 0.10, 0.28, 0.25, 0.21, 0.08, 0.11, 0.02, 0.05],
    /* CN */ [0.03, 0.02, 0.16, 0.105, 0.05, 0.02, null, 0.01, null],
    /* CO */ [0.15, 0.07, 0.19, 0.17, 0.10, 0.04, 0.06, 0.01, 0.02],
    /* CY */ [0.02, 0.01, 0.04, 0.11, 0.125, 0.05, 0.085, 0.02, 0.035],
    /* CZ */ [0.014, 0.014, 0.025, 0.045, 0.038, 0.014, 0.028, 0.007, 0.011],
    /* DE */ [0.005, 0.005, 0.022, 0.026, 0.019, 0.008, 0.012, 0.003, 0.005],
    /* DK */ [0.0055, 0.0037, 0.008, 0.0125, 0.0085, 0.006, 0.0065, 0.0035, 0.0045],
    /* EE */ [0.01, 0.005, 0.023, 0.048, 0.053, 0.016, 0.035, 0.01, 0.016],
    /* EG */ [null, 0.02, 0.3, 0.53, 0.27, 0.08, 0.12, 0.04, 0.05],
    /* ES */ [0.015, 0.022, 0.055, 0.10, 0.08, 0.028, 0.062, 0.02, 0.03],
    /* FI */ [0.0016, 0.0009, 0.0026, 0.0024, 0.0016, 0.0006, null, 0.0004, null],
    /* FR */ [0.005, 0.0045, 0.012, 0.023, 0.017, 0.006, 0.012, 0.0035, 0.0055],
    /* GB */ [0.005, 0.0055, 0.016, 0.0205, 0.015, 0.006, 0.0115, 0.0035, 0.0045],
    /* GR */ [0.008, 0.005, 0.02, 0.045, 0.045, 0.017, 0.035, 0.01, 0.017],
    /* HR */ [0.047, 0.026, 0.075, 0.105, 0.078, 0.03, 0.05, 0.018, 0.03],
    /* HU */ [0.04, 0.032, 0.09, 0.135, 0.125, 0.04, 0.07, 0.02, 0.035],
    /* ID */ [0.9, 0.4, 1.1, 0.95, 0.65, 0.2, 0.25, 0.1, 0.12],
    /* IE */ [0.006, 0.005, 0.015, 0.029, 0.022, 0.012, 0.022, 0.007, 0.012],
    /* IL */ [0.012, 0.013, 0.037, 0.058, 0.058, 0.023, 0.04, 0.012, 0.025],
    /* IR */ [0.16, 0.08, 0.42, 0.4, 0.16, 0.03, null, 0.03, null],
    /* IS */ [null, 0.001, 0.003, 0.017, 0.023, 0.008, 0.021, 0.005, 0.006],
    /* IT */ [0.04, 0.028, 0.07, 0.1, 0.075, 0.04, 0.05, 0.015, 0.02],
    /* JP */ [0.0025, 0.0025, 0.008, 0.0135, 0.012, 0.005, 0.011, 0.0037, 0.0038]
];

// ---- layout ----
const COL_LEFT = [41, 350, 659, 968];
const ROW_TOP = 10, ROW_STEP = 213;
const PLOT_W = 264, PLOT_H = 183;
const PAD_L = 41, PAD_T = 8, PAD_R = 3, PAD_B = 16;

Chart.defaults.font.family = '"DejaVu Sans", sans-serif';
Chart.defaults.font.size = 10.5;
Chart.defaults.color = "#000";
Chart.defaults.animation = false;

function decimalsFor(step) {
    return Math.max(0, -Math.floor(Math.log10(step) + 1e-9));
}

function dipPoints(i) {
    var pts = [];
    dipX.forEach(function (xd, k) {
        var low = dipLows[i][k];
        if (low === null) return;
        var iL = 0, iR = weekX.length - 1;
        weekX.forEach(function (x, j) {
            if (x <= xd + 1e-9) iL = j;
        });
        for (var j = weekX.length - 1; j >= 0; j--) {
            if (weekX[j] >= xd - 1e-9) iR = j;
        }
        pts.push({ x: xd - 0.02, y: observed[i][iL] });
        pts.push({ x: xd, y: low });
        pts.push({ x: xd + 0.02, y: observed[i][iR] });
        pts.push({ x: xd + 0.021, y: null });
    });
    return pts;
}

// Frame, inward ticks and the stats text
function mathLine(ctx, x, y, base, sub, sup, value) {
    ctx.font = 'italic 12px "Liberation Serif", serif';
    ctx.fillText(base, x, y);
    x += ctx.measureText(base).width;
    if (sub) {
        ctx.font = 'italic 8.5px "Liberation Serif", serif';
        ctx.fillText(sub, x + 0.5, y + 3);
        x += ctx.measureText(sub).width + 0.5;
    }
    if (sup) {
        ctx.font = '8.5px "Liberation Serif", serif';
        ctx.fillText(sup, x + 0.5, y - 5);
        x += ctx.measureText(sup).width + 0.5;
    }
    ctx.font = '12px "Liberation Serif", serif';
    ctx.fillText(" =" + value, x, y);
}

const framePlugin = {
    id: "frame",
    afterDatasetsDraw: function (chart) {
        var ctx = chart.ctx, a = chart.chartArea, i = chart.options.plugins.frame.index;
        var xs = chart.scales.x, ys = chart.scales.y;
        ctx.save();
        ctx.strokeStyle = "#000";
        ctx.lineWidth = 1;
        ctx.beginPath();
        xs.ticks.forEach(function (t) {
            var px = Math.round(xs.getPixelForValue(t.value)) + 0.5;
            ctx.moveTo(px, a.bottom); ctx.lineTo(px, a.bottom - 4);
            ctx.moveTo(px, a.top); ctx.lineTo(px, a.top + 4);
        });
        ys.ticks.forEach(function (t) {
            var py = Math.round(ys.getPixelForValue(t.value)) + 0.5;
            ctx.moveTo(a.left, py); ctx.lineTo(a.left + 4, py);
            ctx.moveTo(a.right, py); ctx.lineTo(a.right - 4, py);
        });
        ctx.stroke();
        ctx.strokeRect(a.left + 0.5, a.top + 0.5, a.right - a.left - 1, a.bottom - a.top - 1);

        // year labels under the x axis
        ctx.fillStyle = "#000";
        ctx.font = '10.5px "DejaVu Sans", sans-serif';
        ctx.textAlign = "center";
        ctx.textBaseline = "middle";
        xs.ticks.forEach(function (t) {
            ctx.fillText(String(t.value), xs.getPixelForValue(t.value), a.bottom + 7.5);
        });

        var tx = a.left + 0.65 * (a.right - a.left);
        ctx.textBaseline = "alphabetic";
        ctx.textAlign = "left";
        ctx.font = 'bold 10.5px "DejaVu Sans", sans-serif';
        ctx.fillText(countries[i], tx, a.top + 18);
        ctx.fillStyle = "#444";
        mathLine(ctx, tx, a.top + 30, "phi", "g", null, phiG[i].toFixed(3));
        mathLine(ctx, tx, a.top + 44, "phi", "d", null, phiD[i].toFixed(3));
        mathLine(ctx, tx, a.top + 57.5, "R", null, "2", rSquared[i].toFixed(2));
        ctx.restore();
    }
};

countries.forEach(function (code, i) {
    var r = Math.floor(i / 4), c = i % 4;
    var w = PAD_L + PLOT_W + PAD_R, h = PAD_T + PLOT_H + PAD_B;
    var canvas = document.createElement("canvas");
    canvas.width = w;
    canvas.height = h;
    canvas.style.left = (COL_LEFT[c] - PAD_L) + "px";
    canvas.style.top = (ROW_TOP + r * ROW_STEP - PAD_T) + "px";
    canvas.style.width = w + "px";
    canvas.style.height = h + "px";
    document.body.appendChild(canvas);

    var dec = decimalsFor(yStep[i]);
    var nTicks = Math.round(yMax[i] / yStep[i]);

    new Chart(canvas, {
        type: "line",
        data: {
            datasets: [
                {
                    data: fitX.map(function (x, k) { return { x: x, y: fitted[i][k] }; }),
                    borderColor: "#ff0000",
                    borderWidth: 1.6,
                    pointRadius: 0
                },
                {
                    data: weekX.map(function (x, k) { return { x: x, y: observed[i][k] }; }),
                    borderColor: "#0000ff",
                    borderWidth: 1,
                    pointRadius: 0
                },
                {
                    data: dipPoints(i),
                    borderColor: "#808080",
                    borderWidth: 1,
                    borderDash: [1, 2],
                    pointRadius: 0,
                    spanGaps: false
                }
            ]
        },
        options: {
            responsive: false,
            devicePixelRatio: 1,
            layout: { padding: { top: PAD_T, right: PAD_R, left: 0, bottom: 0 } },
            plugins: { legend: { display: false }, tooltip: { enabled: false }, frame: { index: i } },
            scales: {
                x: {
                    type: "linear",
                    min: 2009.0,
                    max: 2014.72,
                    grid: { display: false },
                    border: { display: false },
                    ticks: { display: false },
                    afterBuildTicks: function (s) {
                        s.ticks = yearTicks.map(function (v) { return { value: v }; });
                    },
                    afterFit: function (s) { s.height = PAD_B; }
                },
                y: {
                    min: 0,
                    max: yMax[i],
                    grid: { display: false },
                    border: { display: false },
                    ticks: {
                        autoSkip: false,
                        padding: 3,
                        callback: function (v) { return v.toFixed(dec); }
                    },
                    afterBuildTicks: function (s) {
                        var t = [];
                        for (var k = 0; k <= nTicks; k++) t.push({ value: k * yStep[i] });
                        s.ticks = t;
                    },
                    afterFit: function (s) { s.width = PAD_L; }
                }
            }
        },
        plugins: [framePlugin]
    });
});
</script>
</body>
</html>
